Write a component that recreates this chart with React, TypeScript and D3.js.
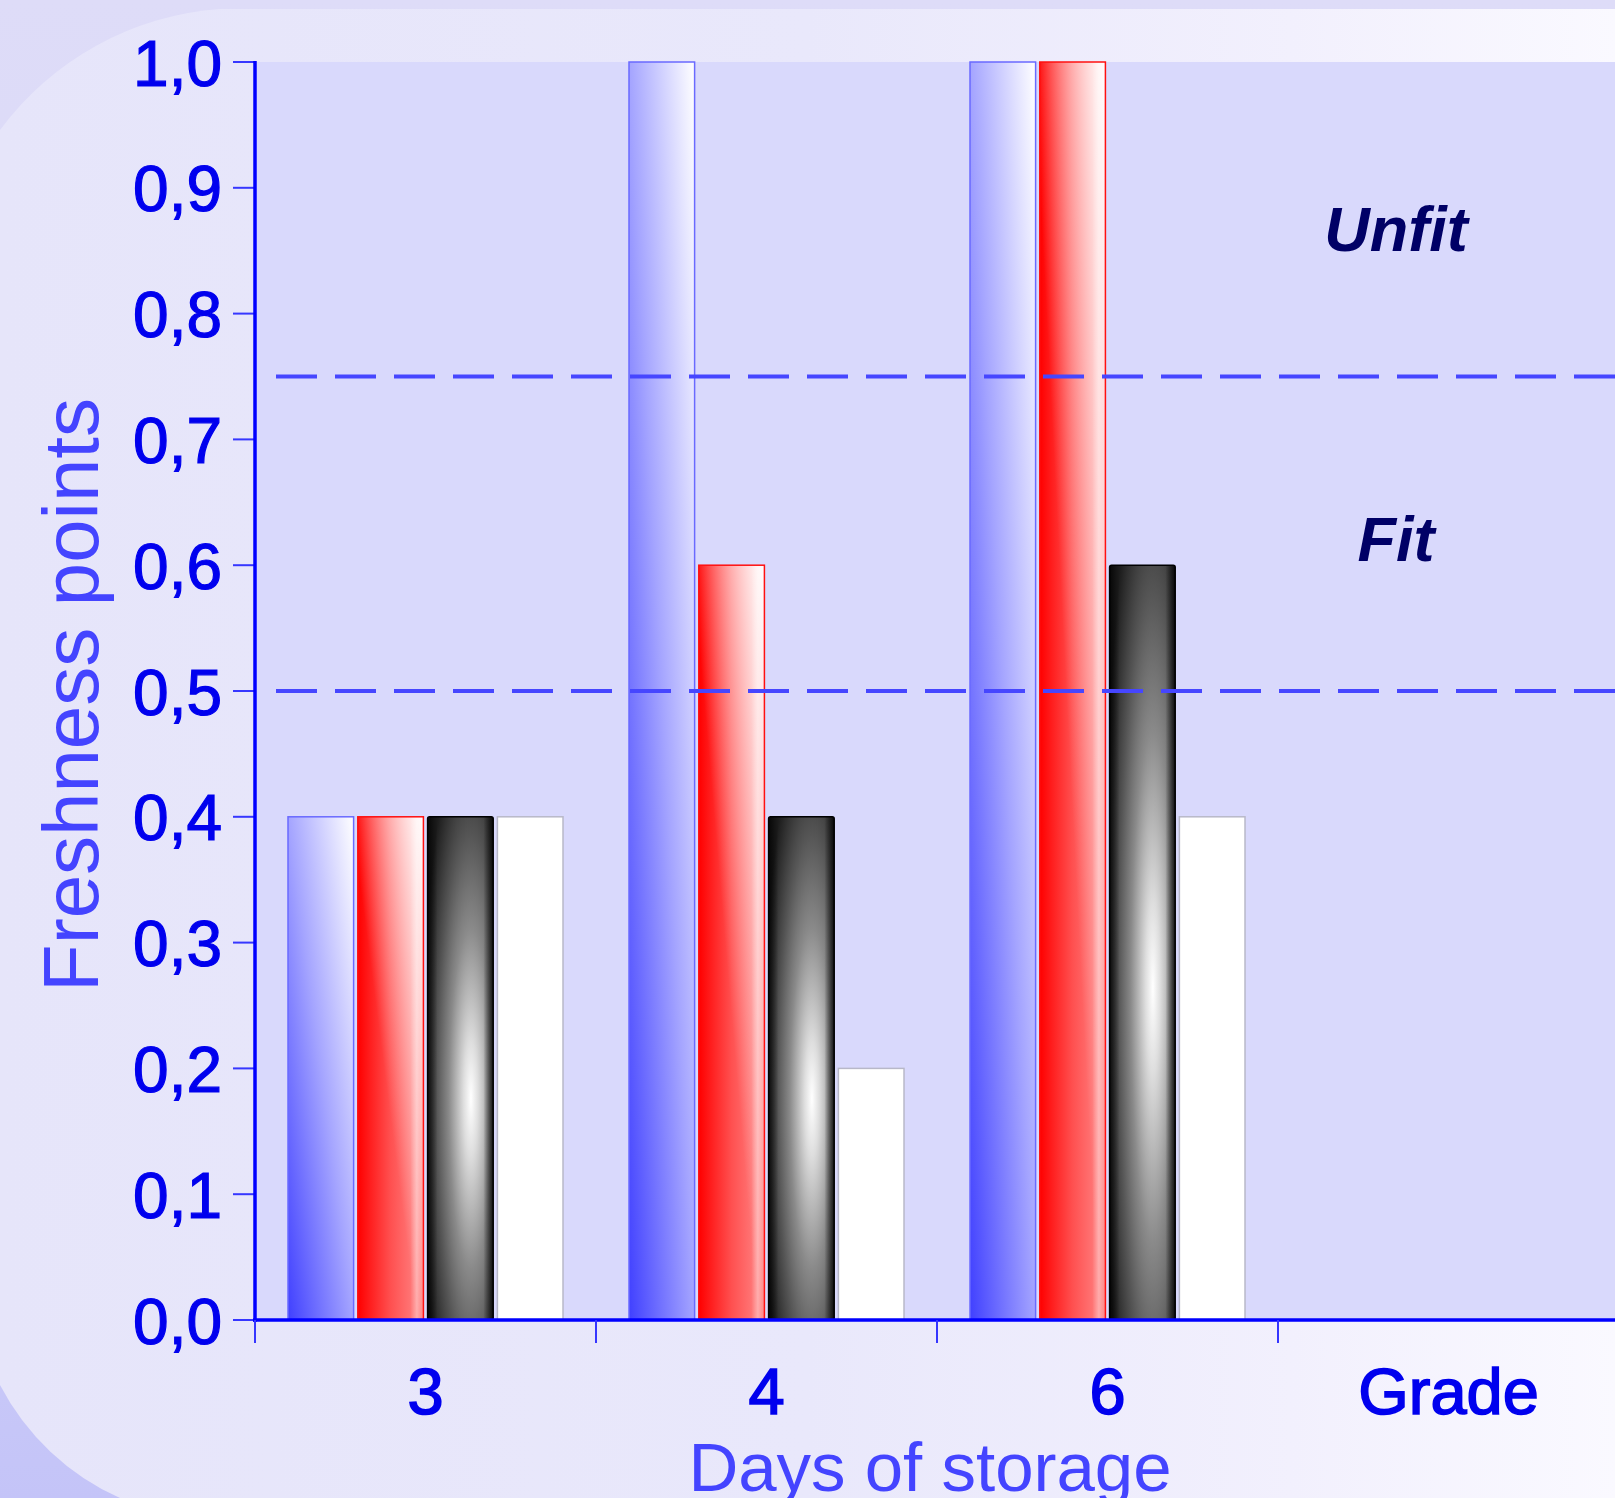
import React from "react";
import * as d3 from "d3";

const categories = ["3", "4", "6", "Grade"];
const seriesKeys = ["blue", "red", "black", "white"];
const blueValues = [0.4, 1.0, 1.0, null];
const redValues = [0.4, 0.6, 1.0, null];
const blackValues = [0.4, 0.4, 0.6, null];
const whiteValues = [0.4, 0.2, 0.4, null];
const yTickValues = [0, 0.1, 0.2, 0.3, 0.4, 0.5, 0.6, 0.7, 0.8, 0.9, 1.0];
const thresholdValues = [0.5, 0.75];
const zoneLabels = ["Unfit", "Fit"];
const zoneLabelValues = [0.85, 0.603];
const yTitle = "Freshness points";
const xTitle = "Days of storage";

const W = 1615;
const H = 1498;
const FONT = "'Liberation Sans', Arial, sans-serif";

export default function App() {
  const y = d3.scaleLinear().domain([0, 1]).range([1320, 62]);
  const x = d3.scaleBand().domain(categories).range([255, 1619]).paddingInner(0).paddingOuter(0);
  const xs = d3.scaleBand().domain(seriesKeys).range([33, 308]).paddingInner(0.06);
  const seriesData: Record<string, (number | null)[]> = {
    blue: blueValues,
    red: redValues,
    black: blackValues,
    white: whiteValues,
  };
  const fmt = (v: number) => d3.format(".1f")(v).replace(".", ",");

  const bars: React.ReactNode[] = [];
  seriesKeys.forEach((k) => {
    seriesData[k].forEach((v, i) => {
      if (v == null) return;
      const bx = (x(categories[i]) as number) + (xs(k) as number);
      const bw = xs.bandwidth();
      const by = y(v);
      const bh = y(0) - y(v);
      const key = `${k}-${i}`;
      if (k === "blue") {
        bars.push(
          <rect key={key} x={bx} y={by} width={bw} height={bh} fill="url(#gBlue)" stroke="#6a6aff" strokeWidth={1.5} />
        );
      } else if (k === "red") {
        bars.push(
          <g key={key}>
            <rect x={bx} y={by} width={bw} height={bh} fill="url(#gRedBase)" />
            <rect x={bx} y={by} width={bw} height={bh} fill="url(#gRedWhite)" />
            <rect x={bx} y={by} width={bw} height={bh} fill="url(#gRedHl)" stroke="#ff1010" strokeWidth={1.5} />
          </g>
        );
      } else if (k === "black") {
        bars.push(
          <g key={key}>
            <rect x={bx} y={by} width={bw} height={bh} rx={2} fill="url(#gBlack)" />
            <rect x={bx} y={by} width={bw} height={bh} rx={2} fill="url(#gBlackEdge)" stroke="#000" strokeWidth={1.5} />
          </g>
        );
      } else {
        bars.push(
          <rect key={key} x={bx} y={by} width={bw} height={bh} fill="#ffffff" stroke="#b8b8c8" strokeWidth={1.5} />
        );
      }
    });
  });

  const tickX = categories.map((c) => x(c) as number);

  return (
    <svg width={W} height={H} style={{ position: "absolute", left: 0, top: 0, display: "block" }}>
      <defs>
        <linearGradient id="gBg" x1="0" y1="0" x2="0" y2="1">
          <stop offset="0" stopColor="#dedcf8" />
          <stop offset="0.6" stopColor="#d6d5f8" />
          <stop offset="1" stopColor="#c4c4f8" />
        </linearGradient>
        <linearGradient id="gLight" x1="0" y1="0" x2="1" y2="0">
          <stop offset="0" stopColor="#e6e5fa" />
          <stop offset="0.5" stopColor="#e9e8fb" />
          <stop offset="0.8" stopColor="#f2f0fd" />
          <stop offset="1" stopColor="#faf9ff" />
        </linearGradient>
        <linearGradient id="gBlue" x1="0" y1="1" x2="1" y2="0">
          <stop offset="0" stopColor="#4040ff" />
          <stop offset="0.5" stopColor="#a4a4ff" />
          <stop offset="1" stopColor="#ffffff" />
        </linearGradient>
        <linearGradient id="gRedBase" x1="0" y1="0" x2="1" y2="0">
          <stop offset="0" stopColor="#ff0000" />
          <stop offset="0.5" stopColor="#ff5050" />
          <stop offset="1" stopColor="#ff8a8a" />
        </linearGradient>
        <linearGradient id="gRedWhite" x1="0" y1="1" x2="1" y2="0">
          <stop offset="0.45" stopColor="#ffffff" stopOpacity={0} />
          <stop offset="1" stopColor="#ffffff" stopOpacity={1} />
        </linearGradient>
        <linearGradient id="gRedHl" x1="0" y1="0" x2="1" y2="0">
          <stop offset="0.8" stopColor="#ffffff" stopOpacity={0} />
          <stop offset="0.9" stopColor="#ffffff" stopOpacity={0.35} />
          <stop offset="0.97" stopColor="#ffffff" stopOpacity={0} />
        </linearGradient>
        <radialGradient id="gBlack" cx="0.66" cy="0.56" r="0.75">
          <stop offset="0" stopColor="#ffffff" />
          <stop offset="0.15" stopColor="#dedede" />
          <stop offset="0.45" stopColor="#8a8a8a" />
          <stop offset="0.7" stopColor="#555555" />
          <stop offset="0.85" stopColor="#383838" />
          <stop offset="1" stopColor="#1c1c1c" />
        </radialGradient>
        <linearGradient id="gBlackEdge" x1="0" y1="0" x2="1" y2="0">
          <stop offset="0" stopColor="#000" stopOpacity={0.75} />
          <stop offset="0.15" stopColor="#000" stopOpacity={0} />
          <stop offset="0.85" stopColor="#000" stopOpacity={0} />
          <stop offset="1" stopColor="#000" stopOpacity={0.85} />
        </linearGradient>
      </defs>

      {/* slide background */}
      <rect x={0} y={0} width={W} height={H} fill="url(#gBg)" />
      <path
        d={`M 220 9 H ${W} V ${H} H 120 A 250 250 0 0 1 0 1385 V 130 A 300 300 0 0 1 220 9 Z`}
        fill="url(#gLight)"
      />

      {/* plot area */}
      <rect x={255} y={y(1)} width={W - 255} height={y(0) - y(1)} fill="#d9d9fc" />

      {bars}

      {/* threshold dashed lines */}
      {thresholdValues.map((t) => (
        <line
          key={t}
          x1={276}
          x2={W}
          y1={y(t)}
          y2={y(t)}
          stroke="#4646ff"
          strokeWidth={4}
          strokeDasharray="41 18"
          strokeLinecap="butt"
        />
      ))}

      {/* zone labels */}
      {zoneLabels.map((t, i) => (
        <text
          key={t}
          x={1396}
          y={y(zoneLabelValues[i])}
          textAnchor="middle"
          fontFamily={FONT}
          fontWeight="bold"
          fontStyle="italic"
          fontSize={63}
          fill="#000066"
        >
          {t}
        </text>
      ))}

      {/* y axis */}
      {yTickValues.map((v) => (
        <g key={v}>
          <line x1={233} x2={255} y1={y(v)} y2={y(v)} stroke="#3636ff" strokeWidth={2} />
          <text
            x={222}
            y={y(v)}
            dy="0.37em"
            textAnchor="end"
            fontFamily={FONT}
            fontSize={64}
            fill="#0000ee"
            stroke="#0000ee"
            strokeWidth={1.2}
          >
            {fmt(v)}
          </text>
        </g>
      ))}
      <line x1={255} x2={255} y1={y(1) - 1} y2={y(0) + 2} stroke="#0000ff" strokeWidth={3.5} />

      {/* x axis */}
      <line x1={253} x2={W} y1={y(0)} y2={y(0)} stroke="#0000ff" strokeWidth={3.5} />
      {tickX.map((tx) => (
        <line key={tx} x1={tx} x2={tx} y1={y(0)} y2={y(0) + 23} stroke="#3636ff" strokeWidth={2} />
      ))}
      {categories.map((c) => (
        <text
          key={c}
          x={(x(c) as number) + x.bandwidth() / 2}
          y={1414}
          textAnchor="middle"
          fontFamily={FONT}
          fontSize={65}
          fill="#0000ee"
          stroke="#0000ee"
          strokeWidth={1.6}
        >
          {c}
        </text>
      ))}

      {/* titles */}
      <text
        transform={`translate(98, 695) rotate(-90)`}
        textAnchor="middle"
        fontFamily={FONT}
        fontSize={78}
        fill="#4444ff"
      >
        {yTitle}
      </text>
      <text x={930} y={1491} textAnchor="middle" fontFamily={FONT} fontSize={69} fill="#4444ff">
        {xTitle}
      </text>
    </svg>
  );
}
